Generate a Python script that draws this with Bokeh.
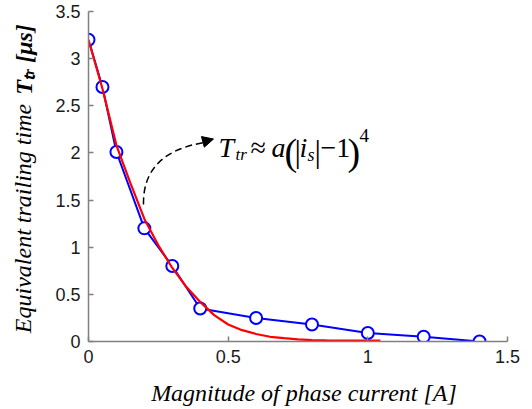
import numpy as np
from bokeh.plotting import figure
from bokeh.models import Label, Arrow, NormalHead, Range1d, FixedTicker, LinearAxis
from bokeh.embed import file_html
from bokeh.resources import INLINE

# ---- data ----
meas_current = [0.0, 0.05, 0.1, 0.2, 0.3, 0.4, 0.6, 0.8, 1.0, 1.2, 1.4]
meas_time = [3.2, 2.70, 2.01, 1.20, 0.80, 0.35, 0.25, 0.18, 0.09, 0.05, 0.0]

fit_current = [0.0, 0.05, 0.1, 0.15, 0.2, 0.25, 0.3, 0.35, 0.4, 0.45, 0.5,
               0.55, 0.6, 0.65, 0.7, 0.75, 0.8, 0.85, 0.9, 0.95, 1.0, 1.045]
fit_time = [3.2, 2.68, 2.08, 1.68, 1.30, 1.02, 0.78, 0.58, 0.42, 0.28, 0.18,
            0.12, 0.08, 0.05, 0.035, 0.022, 0.015, 0.012, 0.01, 0.01, 0.01, 0.01]

x_ticks = [0, 0.5, 1, 1.5]
y_ticks = [0, 0.5, 1, 1.5, 2, 2.5, 3, 3.5]

x_title = "Magnitude of phase current [A]"
y_title = "Equivalent trailing time"
y_title_symbol = "Tₜᵣ [μs]"

# ---- layout ----
W, H = 532, 409
L, R, T, B = 88, 25, 11, 68
X0, X1, Y0, Y1 = 0.0, 1.5, 0.0, 3.5
FW, FH = W - L - R, H - T - B
SERIF = "Liberation Serif"
PAD = "\u00a0"


def fx(px):
    return X0 + (px - L) / FW * (X1 - X0)


def fy(py):
    return Y0 + (T + FH - py) / FH * (Y1 - Y0)


p = figure(width=W, height=H, output_backend="svg", toolbar_location=None,
           x_range=Range1d(X0, X1), y_range=Range1d(Y0, Y1),
           min_border_left=L, min_border_right=R, min_border_top=T, min_border_bottom=B)
p.outline_line_color = None
p.grid.visible = False
p.background_fill_color = "white"
p.border_fill_color = "white"

for ax in (p.xaxis[0], p.yaxis[0]):
    ax.axis_line_color = "#808080"
    ax.axis_line_width = 1.5
    ax.major_tick_line_color = "#808080"
    ax.major_tick_line_width = 1.5
    ax.major_tick_in = 5
    ax.major_tick_out = 0
    ax.minor_tick_line_color = None
    ax.major_label_text_font = "Liberation Sans"
    ax.major_label_text_font_size = "18px"
    ax.major_label_text_color = "#1a1a1a"
p.xaxis[0].ticker = FixedTicker(ticks=x_ticks)
p.yaxis[0].ticker = FixedTicker(ticks=y_ticks)
p.xaxis[0].major_label_standoff = 8
p.yaxis[0].major_label_standoff = 8

p.xaxis[0].axis_label = PAD * 2 + x_title
p.xaxis[0].axis_label_text_font = SERIF
p.xaxis[0].axis_label_text_font_style = "italic"
p.xaxis[0].axis_label_text_font_size = "24px"
p.xaxis[0].axis_label_text_color = "black"
p.xaxis[0].axis_label_standoff = 14


def title_axis(text, style, size, standoff):
    ax = LinearAxis(ticker=FixedTicker(ticks=[]), axis_line_color=None,
                    major_tick_line_color=None, minor_tick_line_color=None,
                    major_label_text_font_size="0px",
                    axis_label=text, axis_label_text_font=SERIF,
                    axis_label_text_font_style=style,
                    axis_label_text_font_size=f"{size}px",
                    axis_label_text_color="black",
                    axis_label_standoff=standoff)
    p.add_layout(ax, "left")


# the two halves of the y title share one centred line: each is padded with
# non-breaking spaces where the other half sits
title_axis(y_title + PAD * 14, "italic", 24, 17)
title_axis(PAD * 39 + y_title_symbol, "bold italic", 24, -30)

# ---- series ----
p.line(meas_current, meas_time, line_color="#0000ff", line_width=2)
p.scatter(meas_current, meas_time, marker="circle", size=12, line_color="#0000ff",
          line_width=2, fill_color="white")
p.line(fit_current, fit_time, line_color="#ff0000", line_width=2.2)

# ---- dashed curved arrow ----
p.quadratic(x0=[fx(143)], y0=[fy(204)], x1=[fx(204)], y1=[fy(142)],
            cx=[fx(142)], cy=[fy(152)], line_color="black", line_width=1.5,
            line_dash="7 4")
p.add_layout(Arrow(end=NormalHead(size=11, fill_color="black", line_color="black"),
                   x_start=fx(200), y_start=fy(142), x_end=fx(213), y_end=fy(138.5),
                   line_width=0, line_alpha=0))


def lab(text, px, py, size, style="normal"):
    # screen units are measured from the frame's bottom-left corner
    p.add_layout(Label(x=px - L, y=(T + FH) - py, x_units="screen", y_units="screen",
                       text=text, text_font=SERIF,
                       text_font_size=f"{size}px", text_font_style=style,
                       text_color="black", text_baseline="alphabetic"))


# ---- formula annotation ----
lab("T", 218, 147, 28, "italic")
lab("tr", 235, 154, 17, "italic")
lab("≈", 250, 147, 28)
lab("a", 271, 147, 28, "italic")
lab("(", 284, 151, 38)
lab("|", 294, 150, 32)
lab("i", 299, 147, 28, "italic")
lab("s", 307, 154, 18, "italic")
lab("|", 314, 150, 32)
lab("−1", 320, 147, 28)
lab(")", 347, 151, 38)
lab("4", 359, 135, 19)

open("out.html", "w").write(file_html(p, INLINE))
